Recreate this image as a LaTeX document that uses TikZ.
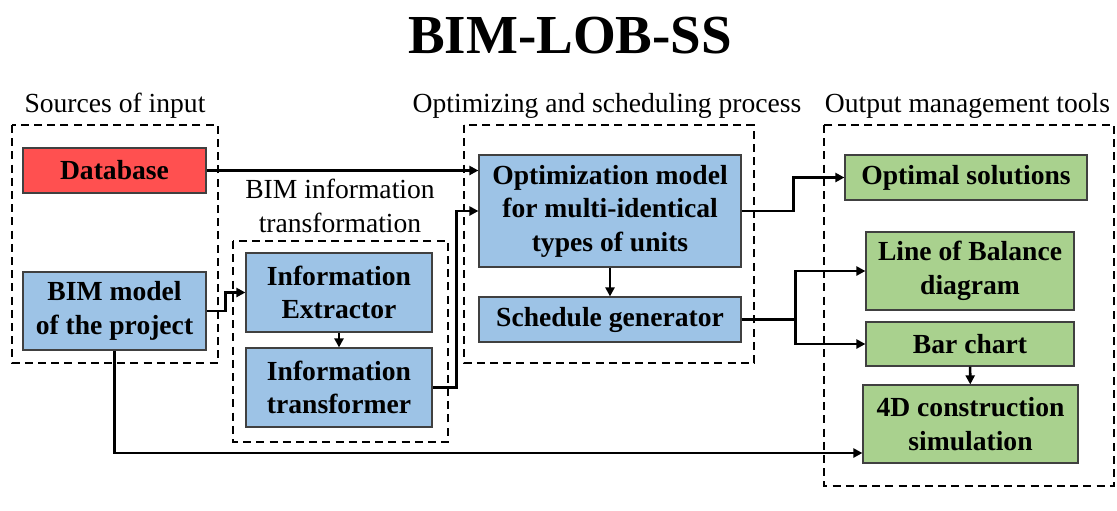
\documentclass[tikz,border=0pt]{standalone}
\usepackage{fontspec}
\setmainfont{Liberation Serif}
\usetikzlibrary{arrows.meta}
\definecolor{dbred}{RGB}{255,80,80}
\definecolor{boxblue}{RGB}{157,195,230}
\definecolor{boxgreen}{RGB}{169,209,142}

\begin{document}
\begin{tikzpicture}[x=0.5pt,y=-0.5pt,
	box/.style={draw=black!75,line width=0.6pt,align=center,inner sep=0pt,font=\fontsize{13.8}{16.8}\selectfont\bfseries},
	bluebox/.style={box,fill=boxblue},
	greenbox/.style={box,fill=boxgreen},
	groupbox/.style={line width=0.9pt,dash pattern=on 4pt off 2.6pt},
	grouptext/.style={align=center,font=\fontsize{13.8}{16.8}\selectfont},
	link/.style={line width=1.3pt,-{Triangle[length=4.5pt,width=4.5pt]}}]
	\useasboundingbox (0,0) rectangle (1117,510);
	\node[font=\fontsize{27.5}{30}\selectfont\bfseries,anchor=base] (title) at (570,53) {BIM-LOB-SS};
	\draw[groupbox] (12,125) rectangle (218,363);
	\draw[groupbox] (233,241) rectangle (448,442);
	\draw[groupbox] (464,125) rectangle (754,363);
	\draw[groupbox] (824,125) rectangle (1114,486);
	\node[grouptext,anchor=base] (srclabel) at (115,112) {Sources of input};
	\node[grouptext] (infolabel) at (340,206) {BIM information\\transformation};
	\node[grouptext,anchor=base] (proclabel) at (607,112) {Optimizing and scheduling process};
	\node[grouptext,anchor=base] (outlabel) at (967.5,112) {Output management tools};
	\node[box,fill=dbred,minimum width=91.5pt,minimum height=22.5pt] (db) at (114.5,170.5) {Database};
	\node[bluebox,minimum width=91.5pt,minimum height=39pt] (bim) at (114.5,311) {BIM model\\of the project};
	\node[bluebox,minimum width=93pt,minimum height=39.5pt] (extr) at (339,292.5) {Information\\Extractor};
	\node[bluebox,minimum width=93pt,minimum height=39.5pt] (trans) at (339,387.5) {Information\\transformer};
	\node[bluebox,minimum width=131pt,minimum height=56pt] (optm) at (610,211) {Optimization model\\for multi-identical\\types of units};
	\node[bluebox,minimum width=131pt,minimum height=22.5pt] (sched) at (610,319.5) {Schedule generator};
	\node[greenbox,minimum width=121pt,minimum height=22.5pt] (optsol) at (966,177.5) {Optimal solutions};
	\node[greenbox,minimum width=104pt,minimum height=39pt] (lob) at (970,271) {Line of Balance\\diagram};
	\node[greenbox,minimum width=104pt,minimum height=22pt] (bar) at (970,344) {Bar chart};
	\node[greenbox,minimum width=107.5pt,minimum height=39pt] (fourd) at (970.5,424) {4D construction\\simulation};
	\draw[link] (db.east) -- (db.east -| optm.west);
	\draw[link] (bim.east) -- ++(19,0) |- (extr.west);
	\draw[link] (extr) -- (trans);
	\draw[link] (trans.east) -- ++(24,0) |- (optm.west);
	\draw[link] (optm) -- (sched);
	\draw[link] (optm.east) -- ++(52,0) |- (optsol.west);
	\draw[link] (sched.east) -- ++(54,0) |- (lob.west);
	\draw[link] (sched.east) -- ++(54,0) |- (bar.west);
	\draw[link] (bar) -- (fourd);
	\draw[link] (bim.south) |- ([yshift=-14.5pt]fourd.west);
\end{tikzpicture}
\end{document}
